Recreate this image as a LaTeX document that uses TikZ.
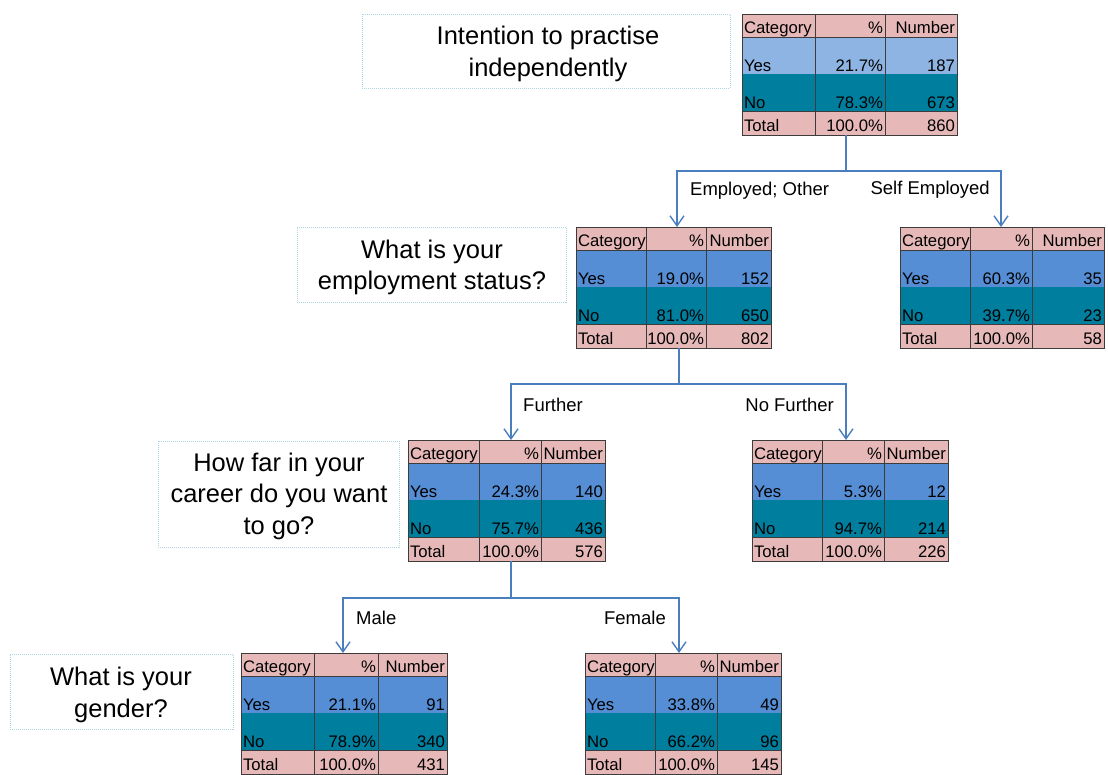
\documentclass[tikz,border=0pt]{standalone}
\usepackage{fontspec}
\setmainfont{Liberation Sans}
\usetikzlibrary{arrows.meta}
\definecolor{pinkc}{RGB}{230,185,184}
\definecolor{yesA}{RGB}{141,180,226}
\definecolor{yesB}{RGB}{85,142,213}
\definecolor{noc}{RGB}{0,126,158}
\definecolor{gridc}{RGB}{60,60,60}
\definecolor{connc}{RGB}{74,126,190}
\definecolor{qborder}{RGB}{175,212,226}

\def\dtabvals#1,#2,#3,#4,#5\relax{\def\vYp{#1}\def\vYn{#2}\def\vNp{#3}\def\vNn{#4}\def\vT{#5}}

% #1 name, #2 x0, #3 x1, #4 x2, #5 x3, #6 y0, #7 yes colour, #8 values
\newcommand\dtab[8]{%
  \dtabvals#8\relax
  \fill[pinkc] (#2,#6) rectangle (#5,#6+23);
  \fill[#7] (#2,#6+23) rectangle (#5,#6+60);
  \fill[noc] (#2,#6+60) rectangle (#5,#6+97);
  \fill[pinkc] (#2,#6+97) rectangle (#5,#6+121);
  \draw[gridl] (#2,#6+23) -- (#5,#6+23) (#2,#6+97) -- (#5,#6+97)
               (#3,#6) -- (#3,#6+121) (#4,#6) -- (#4,#6+121);
  \node[gridl, draw, inner sep=0pt, outer sep=0pt, minimum width={#5-#2},
        minimum height=121, anchor=north west] (#1) at (#2,#6) {};
  \node[tcell, anchor=base west] (#1-h1) at (#2+2,#6+19) {Category};
  \node[tcell, anchor=base east] (#1-h2) at (#4-2,#6+19) {\%};
  \node[tcell, anchor=base east] (#1-h3) at (#5-2,#6+19) {Number};
  \node[tcell, anchor=base west] (#1-y1) at (#2+2,#6+57) {Yes};
  \node[tcell, anchor=base east] (#1-y2) at (#4-2,#6+57) {\vYp};
  \node[tcell, anchor=base east] (#1-y3) at (#5-2,#6+57) {\vYn};
  \node[tcell, anchor=base west] (#1-n1) at (#2+2,#6+94.5) {No};
  \node[tcell, anchor=base east] (#1-n2) at (#4-2,#6+94.5) {\vNp};
  \node[tcell, anchor=base east] (#1-n3) at (#5-2,#6+94.5) {\vNn};
  \node[tcell, anchor=base west] (#1-s1) at (#2+2,#6+117) {Total};
  \node[tcell, anchor=base east] (#1-s2) at (#4-2,#6+117) {100.0\%};
  \node[tcell, anchor=base east] (#1-s3) at (#5-2,#6+117) {\vT};
}

\begin{document}
\begin{tikzpicture}[x=1pt,y=-1pt,
  gridl/.style={draw=gridc, line width=0.8pt},
  tcell/.style={inner sep=0pt, outer sep=0pt, text=black, font=\fontsize{16.7}{19}\selectfont},
  qbox/.style={draw=qborder, line width=0.8pt, dash pattern=on 1pt off 1pt, fill=white,
               inner sep=0pt},
  qtext/.style={align=center, inner sep=0pt, font=\fontsize{25.5}{31.5}\selectfont},
  lbl/.style={inner sep=0pt, font=\fontsize{18.5}{21}\selectfont},
  conn/.style={draw=connc, line width=1.4pt},
  arr/.style={conn, -{Straight Barb[length=10pt,width=14pt,line width=1.4pt]}}]
\useasboundingbox (0,0) rectangle (1108,774);
\fill[white] (0,0) rectangle (1108,774);

% question boxes
\node[qbox, minimum width=368, minimum height=74] (q1) at (546,51) {};
\node[qtext] (q1t) at (548,54) {Intention to practise\\independently};
\node[qbox, minimum width=269, minimum height=75] (q2) at (431.5,264.5) {};
\node[qtext] (q2t) at (432,267.5) {What is your\\employment status?};
\node[qbox, minimum width=241, minimum height=106] (q3) at (278.5,494) {};
\node[qtext] (q3t) at (279,496) {How far in your\\career do you want\\to go?};
\node[qbox, minimum width=223, minimum height=75] (q4) at (121.5,691.5) {};
\node[qtext] (q4t) at (121,695) {What is your\\gender?};

% tables
\dtab{t1}{742}{815}{885}{957}{14}{yesA}{21.7\%,187,78.3\%,673,860}
\dtab{t2}{576}{646}{706}{771}{227}{yesB}{19.0\%,152,81.0\%,650,802}
\dtab{t3}{900}{970}{1032}{1104}{227}{yesB}{60.3\%,35,39.7\%,23,58}
\dtab{t4}{408}{479}{541}{605}{440}{yesB}{24.3\%,140,75.7\%,436,576}
\dtab{t5}{752}{822}{884}{948}{440}{yesB}{5.3\%,12,94.7\%,214,226}
\dtab{t6}{241}{314}{378}{447}{653}{yesB}{21.1\%,91,78.9\%,340,431}
\dtab{t7}{585}{655}{717}{781}{653}{yesB}{33.8\%,49,66.2\%,96,145}

% connectors
\coordinate (j1) at (846,171); \coordinate (a1) at (677,171); \coordinate (b1) at (1001,171);
\draw[conn] (t1.south -| j1) -- (j1);
\draw[arr] (j1) -- (a1) -- (t2.north -| a1);
\draw[arr] (j1) -- (b1) -- (t3.north -| b1);

\coordinate (j2) at (679,384); \coordinate (a2) at (511,384); \coordinate (b2) at (846,384);
\draw[conn] (t2.south -| j2) -- (j2);
\draw[arr] (j2) -- (a2) -- (t4.north -| a2);
\draw[arr] (j2) -- (b2) -- (t5.north -| b2);

\coordinate (j3) at (511,598); \coordinate (a3) at (343,598); \coordinate (b3) at (679,598);
\draw[conn] (t4.south -| j3) -- (j3);
\draw[arr] (j3) -- (a3) -- (t6.north -| a3);
\draw[arr] (j3) -- (b3) -- (t7.north -| b3);

% branch labels
\node[lbl, anchor=west] (l1) at (690,191) {Employed; Other};
\node[lbl, anchor=east] (r1) at (990,190) {Self Employed};
\node[lbl, anchor=west] (l2) at (523,405) {Further};
\node[lbl, anchor=east] (r2) at (834,405) {No Further};
\node[lbl, anchor=west] (l3) at (356,618) {Male};
\node[lbl, anchor=east] (r3) at (666,618) {Female};
\end{tikzpicture}
\end{document}
